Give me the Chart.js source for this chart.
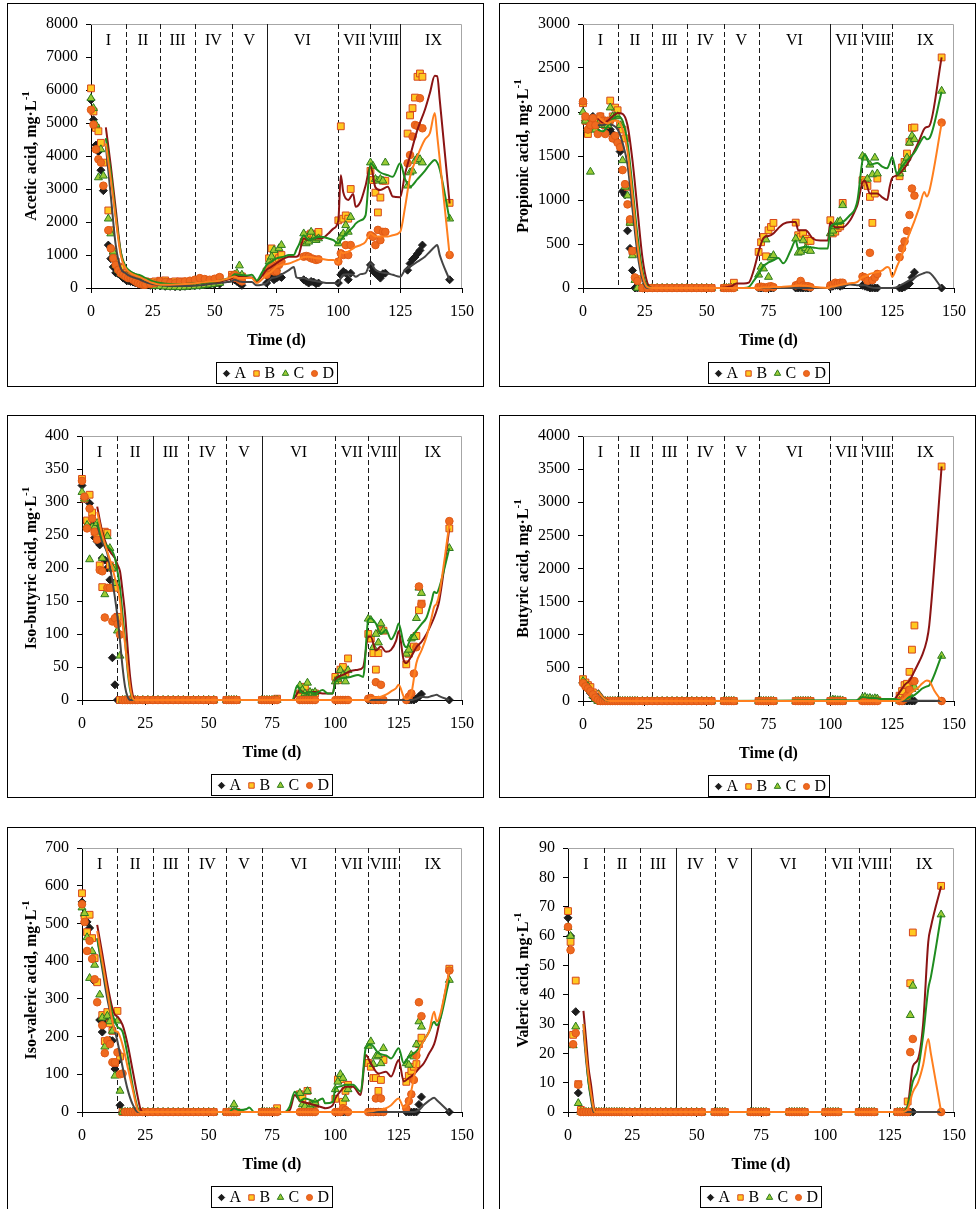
<!DOCTYPE html>
<html>
<head>
<meta charset="utf-8">
<script src="https://cdn.jsdelivr.net/npm/chart.js@4.4.1/dist/chart.umd.min.js"></script>
<style>
body { margin: 0; background: #fff; width: 977px; height: 1209px; overflow: hidden; position: relative; }
.box { position: absolute; border: 1px solid #000; box-sizing: border-box; background: #fff; }
.box canvas { position: absolute; left: 0; top: 0; }
</style>
</head>
<body>
<script>
const SERIF = "'Liberation Serif', 'Times New Roman', serif"

// sampling days shared by all measured series
const sampleDays = [0,1,2,3,4,5,6,7,8,9,10,11,12,13,14,15,16,17,18,19,20,21,22,
  24,26,28,30,32,34,36,38,40,42,44,46,48,50,52,
  57,58,59,60,61, 71,72,73,74,75,76,77, 86,87,88,89,90,91,92,
  100,101,102,103,104,105, 113,114,115,116,117,118,119, 128,129,130,131,132,133,134, 145]

const seriesNames = ["A", "B", "C", "D"]
const phaseBounds = [14, 28, 42, 57, 71, 100, 113, 125]
const phaseNames = ["I", "II", "III", "IV", "V", "VI", "VII", "VIII", "IX"]
const phaseMids = [7, 21, 35, 49.5, 64, 85.5, 106.5, 119, 138.5]
const xTicks = [0, 25, 50, 75, 100, 125, 150]

// ---------- acetic ----------
const acetA = [5700,5100,4330,4130,3570,2950,null,1300,890,640,460,430,380,300,250,220,200,180,150,130,110,100,90,
  80,70,60,50,50,40,40,50,60,70,80,90,100,110,120,
  300,250,200,150,80, 150,300,380,250,300,350,320,
  250,200,150,200,180,130,150, 150,400,500,450,250,450,
  700,520,440,380,300,430,450, 540,740,860,940,1040,1140,1300, 250]
const acetB = [6050,5350,4850,4750,4400,3800,null,2350,1750,1100,800,650,600,450,400,350,320,300,280,250,230,200,200,
  180,200,220,230,180,200,200,180,150,170,200,220,200,250,300,
  400,350,300,300,350, 500,900,1200,1000,800,900,1000,
  1400,1500,1600,1650,1550,1600,1700, 2050,4900,2100,2200,2100,3000,
  3550,3270,2890,2290,2740,3250,3250, 4680,5230,5450,5770,6400,6500,6400, 2580]
const acetC = [5750,5450,4950,3350,4200,3400,null,2100,1650,1100,700,550,450,400,350,350,300,300,250,200,150,120,100,
  80,60,50,40,30,30,20,30,40,50,60,80,100,120,150,
  350,400,450,680,400, 500,800,950,1150,600,1200,1300,
  1650,1350,1400,1700,1500,1450,1500, 1350,1550,1650,1900,1700,2150,
  3800,3700,3300,3250,3300,3250,3800, 3100,3500,3550,3850,3950,3900,3800, 2100]
const acetD = [5400,4950,4200,3900,3800,3100,null,1750,1200,900,700,550,450,400,350,300,300,250,200,150,120,100,100,
  120,150,200,180,150,150,180,200,220,250,300,270,250,280,330,
  350,400,350,250,200, 400,600,700,500,500,700,800,
  950,970,950,900,880,850,870, 800,1050,1000,1300,1000,1300,
  1600,1550,1300,1760,1450,1700,1700, 3780,4030,4590,4940,4910,5750,4840, 1000]

const acetLineDays = [6,8,10,12,14,16,18,20,22,25, 28,32,36,40,44,48,52,55,57,58,
  60,63,65,67,69,71,73,75,78,80, 82,83,84,86,88,90,93,96,98,100,
  101,102,104,106,107,109,111,113,115,117, 120,122,125,127,129,132,135,137,139,140, 141,145]
const acetLineA = [4300,2800,1300,600,450,350,300,250,180,120, 80,60,60,60,80,120,150,180,200,250,
  200,180,180,80,100,150,300,330,450,540, 640,330,300,300,250,220,180,150,150,140,
  300,400,420,400,340,420,450,750,550,480, 440,400,340,550,650,800,950,1100,1250,1300, 1000,240]
const acetLineB = [4870,3700,2400,1100,600,480,420,350,280,180, 130,120,120,130,150,180,200,250,300,380,
  350,330,320,200,350,550,650,750,900,950, 950,950,1000,1500,1450,1500,1500,1650,1800,2050,
  3420,2900,2670,2850,2460,2620,3100,3700,3050,2970, 3070,2770,2750,3470,4000,4800,5400,5900,6430,6420, 5700,2560]
const acetLineC = [4540,3500,2200,1100,650,500,420,380,300,200, 150,120,120,130,150,180,220,280,350,420,
  400,380,400,230,450,700,800,900,950,1000, 1000,1150,1300,1600,1450,1500,1550,1500,1450,1350,
  1450,1550,1700,1850,1950,2050,2200,3780,3630,3500, 3420,3370,3780,3300,3070,3300,3550,3750,3880,3800, 3600,2060]
const acetLineD = [4380,3300,2100,1000,600,450,380,320,250,150, 100,100,110,130,160,200,220,280,330,350,
  300,300,300,150,250,400,500,640,720,740, 800,830,860,940,950,920,890,850,850,740,
  1100,1050,1100,1200,1250,1300,1400,1650,1560,1560, 1560,1600,1700,2460,3370,4000,4500,4690,5300,4600, 3900,990]

// ---------- propionic ----------
const propA = [2100,1900,1800,1850,1950,1800,1850,1900,1850,1900,1850,1800,1750,1690,1650,1550,1100,1060,650,450,200,0,0,
  0,0,0,0,0,0,0,0,0,0,0,0,0,0,0,
  0,0,0,0,0, 0,0,0,0,0,0,0,
  0,0,0,0,0,0,0, 10,20,30,30,20,30,
  30,20,10,0,0,0,0, 0,0,10,30,50,120,180, 0]
const propB = [2100,1900,1750,1850,1900,1850,1900,1950,1900,1850,1900,2130,1950,2050,2020,1850,1800,1700,1150,750,420,400,100,
  0,0,0,0,0,0,0,0,0,0,0,0,0,0,0,
  0,0,0,0,60, 410,520,580,360,656,694,740,
  743,600,580,618,560,535,535, 770,620,640,680,700,967,
  1225,1200,1160,1035,740,1073,1244, 1270,1370,1433,1528,1660,1820,1824, 2620]
const propC = [2000,1900,1800,1320,1800,1800,1850,1900,1850,1850,1850,2050,1950,1950,1950,1850,1450,1150,1050,740,370,90,0,
  0,0,0,0,0,0,0,0,0,0,0,0,0,0,0,
  0,0,0,0,0, 150,240,220,550,125,345,372,
  560,400,410,540,450,430,420, 620,650,700,750,760,940,
  1500,1480,1240,1400,1290,1480,1300, 1300,1350,1420,1480,1650,1730,1690, 2240]
const propD = [2120,1950,1800,1850,1930,1850,1750,1950,1900,1750,1900,1900,1700,1730,1650,1600,1340,1180,950,780,420,120,80,
  0,0,0,0,0,0,0,0,0,0,0,0,0,0,0,
  0,0,0,0,0, 10,15,10,0,15,20,10,
  30,40,80,30,20,20,10, 30,40,60,50,60,60,
  130,120,80,400,90,120,160, 350,450,530,650,830,1130,1050, 1880]

const propLineDays = [6,8,10,12,14,16,18,20,22,24, 26,28,35,45,55,60,62,65,67,69,
  71,73,75,77,79,81,84,86,87,90, 93,96,99,100,102,105,108,110,111,113,
  114,116,119,121,123,124,125,127,129,132, 134,136,138,139,140,145]
const propLineA = [1850,1850,1870,1850,1800,1650,1400,900,400,100, 0,0,0,0,0,0,0,0,0,0,
  0,0,0,0,0,0,0,0,0,0, 0,0,0,0,10,20,40,35,30,30,
  30,10,0,0,0,0,0,10,40,90, 120,150,170,180,175,0]
const propLineB = [1930,1880,1900,1950,1990,1980,1850,1450,900,350, 60,0,0,0,0,20,50,50,60,200,
  410,570,590,620,680,730,750,750,655,655, 560,540,540,750,690,690,770,880,950,1200,
  1220,1075,1075,1030,1000,1150,1250,1280,1330,1450, 1560,1680,1810,1830,1840,2620]
const propLineC = [1800,1780,1840,1920,1950,1900,1650,1150,600,200, 20,0,0,0,0,0,0,0,10,80,
  160,250,290,315,340,280,430,540,450,470, 460,450,450,690,730,750,830,900,1000,1450,
  1510,1400,1420,1380,1360,1420,1490,1290,1380,1480, 1540,1640,1720,1690,1700,2230]
const propLineD = [1950,1900,1870,1900,1900,1800,1550,1050,500,150, 10,0,0,0,0,0,0,0,0,0,
  0,5,5,10,10,15,20,25,30,25, 15,5,0,10,20,40,55,60,70,125,
  130,160,180,200,240,220,125,250,380,620, 760,920,1090,1040,1100,1870]

// ---------- iso-butyric ----------
const ibutA = [325,305,268,298,265,246,240,235,215,212,200,182,64,23,0,0,0,0,0,0,0,0,0,
  0,0,0,0,0,0,0,0,0,0,0,0,0,0,0,
  0,0,0,0,0, 0,0,0,0,0,0,0,
  0,0,0,0,0,0,0, 0,0,0,0,0,0,
  0,0,0,0,0,0,0, 0,0,0,0,2,5,9, 0]
const ibutB = [335,305,272,311,284,255,252,204,171,255,253,204,200,170,126,0,0,0,0,0,0,0,0,
  0,0,0,0,0,0,0,0,0,0,0,0,0,0,0,
  0,0,0,0,0, 0,0,0,0,0,0,2,
  10,15,20,10,10,8,10, 35,30,46,50,40,63,
  100,93,71,46,71,106,105, 54,70,78,81,97,136,146, 260]
const ibutC = [315,305,265,213,262,262,268,255,215,160,248,230,200,177,105,67,0,0,0,0,0,0,0,
  0,0,0,0,0,0,0,0,0,0,0,0,0,0,0,
  0,0,0,0,0, 0,0,0,0,0,0,0,
  22,15,10,26,12,10,12, 28,32,45,38,28,45,
  123,121,80,100,87,116,105, 70,76,93,95,124,170,162, 230]
const ibutD = [332,308,260,290,275,255,243,197,195,125,170,170,119,124,115,99,0,0,0,0,0,0,0,
  0,0,0,0,0,0,0,0,0,0,0,0,0,0,0,
  0,0,0,0,0, 0,0,0,0,0,0,0,
  0,0,0,0,0,0,0, 0,0,0,0,0,0,
  2,3,0,27,0,23,0, 0,5,10,40,80,172,145, 271]

const ibutLineDays = [6,8,10,12,13,14,15,16,17,18, 19,20,21,22,30,50,80,83,85,86,
  88,90,92,95,97,99,100,103,106,109, 111,113,114,116,118,120,122,124,125,127,
  128,130,132,134,136,138,139,140,141,145]
const ibutLineA = [265,240,222,180,155,126,90,50,20,5, 0,0,0,0,0,0,0,0,0,0,
  0,0,0,0,0,0,0,0,0,0, 0,0,0,0,0,0,0,0,0,0,
  0,0,2,5,4,6,7,8,6,0]
const ibutLineB = [293,255,232,220,215,205,195,165,130,80, 35,8,0,0,0,0,0,0,10,15,
  10,12,12,10,10,10,30,38,44,46, 50,96,96,75,81,73,76,90,104,60,
  56,66,80,88,100,116,125,136,150,260]
const ibutLineC = [270,245,233,225,215,195,170,130,90,45, 15,2,0,0,0,0,0,0,22,15,
  10,12,10,15,10,10,28,33,35,38, 35,122,124,116,100,106,92,105,116,85,
  80,95,105,115,125,150,164,162,170,230]
const ibutLineD = [285,250,225,200,185,172,150,115,85,50, 20,3,0,0,0,0,0,0,0,0,
  0,0,0,0,0,0,0,0,0,0, 0,0,3,4,5,8,13,18,23,5,
  1,10,56,75,96,125,141,146,160,266]

// ---------- butyric ----------
const butA = [280,240,180,120,60,20,0,0,0,0,0,0,0,0,0,0,0,0,0,0,0,0,0,
  0,0,0,0,0,0,0,0,0,0,0,0,0,0,0,
  0,0,0,0,0, 0,0,0,0,0,0,0,
  0,0,0,0,0,0,0, 0,0,0,0,0,0,
  0,0,0,0,0,0,0, 0,0,0,0,0,0,0, 0]
const butB = [330,280,240,210,130,60,20,0,0,0,0,0,0,0,0,0,0,0,0,0,0,0,0,
  0,0,0,0,0,0,0,0,0,0,0,0,0,0,0,
  0,0,0,0,0, 0,0,0,0,0,0,0,
  0,0,0,0,0,0,0, 0,0,0,0,0,0,
  10,10,10,10,10,10,10, 80,150,240,260,440,775,1140, 3540]
const butC = [300,260,220,160,80,30,0,0,0,0,0,0,0,0,0,0,0,0,0,0,0,0,0,
  0,0,0,0,0,0,0,0,0,0,0,0,0,0,0,
  0,0,0,0,0, 0,0,0,0,0,0,0,
  0,0,0,0,0,0,0, 10,20,15,10,10,5,
  50,60,40,45,30,40,35, 0,10,30,60,100,180,210, 680]
const butD = [270,220,190,150,100,50,20,0,0,0,0,0,0,0,0,0,0,0,0,0,0,0,0,
  0,0,0,0,0,0,0,0,0,0,0,0,0,0,0,
  0,0,0,0,0, 0,0,0,0,0,0,0,
  0,0,0,0,0,0,0, 0,0,0,0,0,0,
  0,0,0,0,0,0,0, 0,0,30,80,170,300,300, 0]

const butLineDays = [6,7,8,9,10,11,20,50,100,105, 110,112,113,115,117,119,121,124,126,128,
  130,132,134,136,137,139,140,142,145]
const butLineA = [130,90,45,15,0,0,0,0,0,0, 0,0,0,0,0,0,0,0,0,0, 0,3,5,5,5,5,5,3,0]
const butLineB = [170,120,70,30,5,0,0,0,0,0, 0,0,0,0,0,0,0,0,30,130, 240,310,450,600,680,915,1145,null,3540]
const butLineC = [160,110,60,25,3,0,0,0,10,10, 10,40,60,50,45,40,30,30,30,10, 20,60,90,150,185,220,237,null,690]
const butLineD = [150,100,55,20,2,0,0,0,0,0, 0,0,0,0,0,0,0,0,0,0, 40,110,160,220,260,310,300,160,0]

// ---------- iso-valeric ----------
const ivalA = [557,520,504,488,null,346,null,244,212,null,240,190,189,114,134,18,0,0,0,0,0,0,0,
  0,0,0,0,0,0,0,0,0,0,0,0,0,0,0,
  0,0,0,0,0, 0,0,0,0,0,0,0,
  0,0,0,0,0,0,0, 0,0,0,0,0,0,
  0,0,0,0,0,0,0, 0,0,0,0,0,20,40, 0]
const ivalB = [580,520,477,523,461,408,344,null,257,188,265,235,215,130,268,147,0,0,0,0,0,0,0,
  0,0,0,0,0,0,0,0,0,0,0,0,0,0,0,
  0,0,0,0,0, 0,0,0,0,0,0,10,
  47,36,15,56,15,20,20, 35,86,87,27,56,72,
  130,120,90,90,56,85,138, 80,96,109,120,127,180,197, 380]
const ivalC = [542,527,463,355,426,390,null,311,250,173,255,240,215,96,242,56,0,0,0,0,0,0,0,
  0,0,0,0,0,0,0,0,0,0,0,0,0,0,0,
  0,0,0,20,0, 0,0,0,0,0,0,0,
  50,20,15,55,15,20,25, 60,80,100,90,35,60,
  175,187,127,147,150,129,169, 129,125,151,147,179,240,226, 350]
const ivalD = [551,504,427,454,406,352,291,null,230,156,190,180,132,132,158,100,102,0,0,0,0,0,0,
  0,0,0,0,0,0,0,0,0,0,0,0,0,0,0,
  0,0,0,0,0, 0,0,0,0,0,0,0,
  0,0,0,0,0,0,0, 0,0,0,10,5,0,
  0,0,0,36,0,36,0, 10,29,47,85,150,291,254, 375]

const ivalLineDays = [6,8,10,12,13,14,16,18,20,22, 23,24,30,55,58,60,62,65,66,68,
  80,82,84,86,88,90,92,95,96,99, 100,102,104,107,110,112,114,117,120,122,
  125,127,129,131,133,135,137,139,140,145]
const ivalLineA = [460,380,300,240,215,187,120,60,20,0, 0,0,0,0,0,0,0,0,0,0,
  0,0,0,0,0,0,0,0,0,0, 0,0,0,0,0,0,0,0,0,0,
  0,0,0,0,5,19,30,38,32,0]
const ivalLineB = [496,420,340,275,258,253,231,180,110,40, 10,0,0,0,0,0,0,0,0,0,
  0,5,45,30,25,22,18,12,10,18, 36,55,67,67,45,151,129,102,107,94,
  138,81,90,100,115,130,155,180,204,373]
const ivalLineC = [461,390,320,260,240,226,213,150,70,10, 0,0,0,0,0,10,5,8,12,0,
  0,15,54,30,36,32,27,36,23,27, 63,68,72,72,54,169,179,156,150,142,
  169,129,147,155,169,190,213,239,230,350]
const ivalLineD = [480,400,320,240,215,213,178,120,60,5, 0,0,0,0,0,0,0,0,0,0,
  0,0,0,0,0,0,0,0,0,0, 0,0,0,0,0,0,2,5,10,18,
  36,12,30,90,160,190,213,266,240,373]

// ---------- valeric ----------
const valA = [66.2,60,null,34.2,6.5,0,0,0,0,0,0,0,0,0,0,0,0,0,0,0,0,0,0,
  0,0,0,0,0,0,0,0,0,0,0,0,0,0,0,
  0,0,0,0,0, 0,0,0,0,0,0,0,
  0,0,0,0,0,0,0, 0,0,0,0,0,0,
  0,0,0,0,0,0,0, 0,0,0,0,0,0,0, 0]
const valB = [68.5,58,26.3,44.8,9.5,0.7,0,0,0,0,0,0,0,0,0,0,0,0,0,0,0,0,0,
  0,0,0,0,0,0,0,0,0,0,0,0,0,0,0,
  0,0,0,0,0, 0,0,0,0,0,0,0,
  0,0,0,0,0,0,0, 0,0,0,0,0,0,
  0,0,0,0,0,0,0, 0,0,0,0,3.6,43.9,61.2, 77.1]
const valC = [63,60,22.7,29.1,3,0,0,0,0,0,0,0,0,0,0,0,0,0,0,0,0,0,0,
  0,0,0,0,0,0,0,0,0,0,0,0,0,0,0,
  0,0,0,0,0, 0,0,0,0,0,0,0,
  0,0,0,0,0,0,0, 0,0,0,0,0,0,
  0,0,0,0,0,0,0, 0,0,0,0,0,33,43, 67.3]
const valD = [63.1,55.2,23.1,26.9,9.3,0,0,0,0,0,0,0,0,0,0,0,0,0,0,0,0,0,0,
  0,0,0,0,0,0,0,0,0,0,0,0,0,0,0,
  0,0,0,0,0, 0,0,0,0,0,0,0,
  0,0,0,0,0,0,0, 0,0,0,0,0,0,
  0,0,0,0,0,0,0, 0,0,0,0,0,20.4,24.9, 0]

const valLineDays = [6,7,8,9,10,10.5,20,60,100,130,132,134,136,138,140,141,145]
const valLineA = [28,18,10,4,0,0,0,0,0,0,0,0,0,0,0,0,0]
const valLineB = [34.5,25,15,9,2,0,0,0,0,0,2,15.5,18,30,58,63,77]
const valLineC = [30,20,10,5,1,0,0,0,0,0,2,10.4,14.5,26,42,46,67]
const valLineD = [30,20,12,6,1,0,0,0,0,0,1,6.8,10,16,24.9,20,0]

// ---------- styles ----------
const markStyle = [
  { pointStyle: "rectRot", radius: 4, fill: "#1c1c1c", edge: "#1c1c1c" },
  { pointStyle: "rect", radius: 4.8, fill: "#ffc820", edge: "#d6461c" },
  { pointStyle: "triangle", radius: 4.6, fill: "#9acb34", edge: "#2c7a1e" },
  { pointStyle: "circle", radius: 3.8, fill: "#ef6a1f", edge: "#e05a16" }
]
const lineColors = ["#454545", "#8b1414", "#1f8c1f", "#ff7f1e"]

const panels = [
  { box: [7, 3, 477, 384], plot: [91, 462, 24, 288], yMax: 8000, yStep: 1000, title: "Acetic acid, mg·L", styles: "ddddsdds",
    pts: [acetA, acetB, acetC, acetD], lineDays: acetLineDays, lines: [acetLineA, acetLineB, acetLineC, acetLineD] },
  { box: [499, 3, 477, 384], plot: [583, 954, 24, 288], yMax: 3000, yStep: 500, title: "Propionic acid, mg·L", styles: "dddddsdd",
    pts: [propA, propB, propC, propD], lineDays: propLineDays, lines: [propLineA, propLineB, propLineC, propLineD] },
  { box: [7, 415, 477, 383], plot: [82, 463, 436, 700], yMax: 400, yStep: 50, title: "Iso-butyric acid, mg·L", styles: "dsddsdds",
    pts: [ibutA, ibutB, ibutC, ibutD], lineDays: ibutLineDays, lines: [ibutLineA, ibutLineB, ibutLineC, ibutLineD] },
  { box: [499, 415, 477, 383], plot: [583, 956, 436, 701], yMax: 4000, yStep: 500, title: "Butyric acid, mg·L", styles: "dddddddd",
    pts: [butA, butB, butC, butD], lineDays: butLineDays, lines: [butLineA, butLineB, butLineC, butLineD] },
  { box: [7, 827, 477, 400], plot: [82, 463, 848, 1112], yMax: 700, yStep: 100, title: "Iso-valeric acid, mg·L", styles: "dddddddd",
    pts: [ivalA, ivalB, ivalC, ivalD], lineDays: ivalLineDays, lines: [ivalLineA, ivalLineB, ivalLineC, ivalLineD] },
  { box: [499, 827, 477, 400], plot: [568, 955, 848, 1112], yMax: 90, yStep: 10, title: "Valeric acid, mg·L", styles: "ddsdsddd",
    pts: [valA, valB, valC, valD], lineDays: valLineDays, lines: [valLineA, valLineB, valLineC, valLineD] }
]

// make sure every series matches its day list
panels.forEach((p, k) => {
  p.pts.forEach((s, i) => { if (s.length !== sampleDays.length) throw new Error("panel " + k + " points " + i + ": " + s.length) })
  p.lines.forEach((s, i) => { if (s.length !== p.lineDays.length) throw new Error("panel " + k + " line " + i + ": " + s.length) })
})

Chart.defaults.font.family = SERIF
Chart.defaults.font.size = 16
Chart.defaults.color = "#000"

const decor = {
  id: "decor",
  beforeDatasetsDraw(chart, args, o) {
    const { ctx, chartArea: a } = chart
    const x = chart.scales.x
    ctx.save()
    ctx.lineWidth = 1
    ctx.strokeStyle = "#a6a6a6"
    ctx.beginPath()
    ctx.moveTo(a.left, a.top + 0.5)
    ctx.lineTo(a.right - 0.5, a.top + 0.5)
    ctx.lineTo(a.right - 0.5, a.bottom)
    ctx.stroke()
    ctx.strokeStyle = "#1a1a1a"
    phaseBounds.forEach((d, i) => {
      const px = Math.round(x.getPixelForValue(d)) + 0.5
      ctx.setLineDash(o.styles[i] === "s" ? [] : [5, 3])
      ctx.beginPath()
      ctx.moveTo(px, a.top)
      ctx.lineTo(px, a.bottom)
      ctx.stroke()
    })
    ctx.setLineDash([])
    ctx.fillStyle = "#000"
    ctx.font = "16px " + SERIF
    ctx.textAlign = "center"
    ctx.textBaseline = "middle"
    phaseNames.forEach((n, i) => ctx.fillText(n, x.getPixelForValue(phaseMids[i]), a.top + 17))
    ctx.restore()
  },
  afterDraw(chart, args, o) {
    const { ctx, chartArea: a } = chart
    const cx = (a.left + a.right) / 2
    ctx.save()
    ctx.fillStyle = "#000"
    ctx.textBaseline = "middle"
    ctx.textAlign = "center"
    ctx.font = "bold 16px " + SERIF
    ctx.fillText("Time (d)", cx, a.bottom + 53)

    // y axis title with superscript
    ctx.save()
    ctx.translate(24, (a.top + a.bottom) / 2)
    ctx.rotate(-Math.PI / 2)
    ctx.textAlign = "left"
    ctx.font = "bold 16px " + SERIF
    const w1 = ctx.measureText(o.title).width
    ctx.font = "bold 11px " + SERIF
    const w2 = ctx.measureText("-1").width
    const x0 = -(w1 + w2) / 2
    ctx.font = "bold 16px " + SERIF
    ctx.fillText(o.title, x0, 0)
    ctx.font = "bold 11px " + SERIF
    ctx.fillText("-1", x0 + w1, -6)
    ctx.restore()

    // legend box
    const bx = Math.round(cx - 61) + 0.5
    const by = Math.round(a.bottom + 74) + 0.5
    ctx.strokeStyle = "#000"
    ctx.lineWidth = 1
    ctx.strokeRect(bx, by, 121, 21)
    const markX = [10, 40, 69, 98]
    const textX = [18, 48, 77, 106]
    seriesNames.forEach((n, i) => {
      const m = markStyle[i]
      ctx.fillStyle = m.fill
      ctx.strokeStyle = m.edge
      ctx.lineWidth = 1
      Chart.helpers.drawPoint(ctx, { pointStyle: m.pointStyle, radius: m.radius * 0.8, rotation: 0, borderWidth: 1 }, bx + markX[i], by + 11)
      ctx.fillStyle = "#000"
      ctx.font = "16px " + SERIF
      ctx.textAlign = "left"
      ctx.fillText(n, bx + textX[i], by + 11.5)
    })
    ctx.restore()
  }
}

panels.forEach(p => {
  const [bl, bt, bw, bh] = p.box
  const div = document.createElement("div")
  div.className = "box"
  div.style.left = bl + "px"
  div.style.top = bt + "px"
  div.style.width = bw + "px"
  div.style.height = bh + "px"
  const canvas = document.createElement("canvas")
  const cw = bw - 2, ch = bh - 2
  canvas.width = cw
  canvas.height = ch
  canvas.style.width = cw + "px"
  canvas.style.height = ch + "px"
  div.appendChild(canvas)
  document.body.appendChild(div)

  const pl = p.plot[0] - bl - 1
  const pr = p.plot[1] - bl - 1
  const pt = p.plot[2] - bt - 1
  const pb = p.plot[3] - bt - 1

  const datasets = []
  p.lines.forEach((vals, i) => {
    datasets.push({
      label: "line " + seriesNames[i],
      data: p.lineDays.map((d, j) => ({ x: d, y: vals[j] })),
      showLine: true,
      spanGaps: true,
      borderColor: lineColors[i],
      borderWidth: 2,
      pointRadius: 0,
      cubicInterpolationMode: "monotone",
      order: 4 - i,
      clip: false
    })
  })
  p.pts.forEach((vals, i) => {
    const m = markStyle[i]
    datasets.push({
      label: seriesNames[i],
      data: sampleDays.map((d, j) => vals[j] == null ? null : { x: d, y: vals[j] }).filter(Boolean),
      showLine: false,
      pointStyle: m.pointStyle,
      pointRadius: m.radius,
      backgroundColor: m.fill,
      borderColor: m.edge,
      borderWidth: 1,
      order: 9 - i,
      clip: false
    })
  })

  const axisGrid = { display: true, drawOnChartArea: false, drawTicks: true, tickLength: 5, color: "#000" }
  const axisBorder = { display: true, color: "#000", width: 1 }

  new Chart(canvas, {
    type: "scatter",
    data: { datasets },
    options: {
      responsive: false,
      animation: false,
      devicePixelRatio: 1,
      events: [],
      layout: { padding: { left: 0, top: pt, right: cw - pr, bottom: 0 } },
      plugins: {
        legend: { display: false },
        tooltip: { enabled: false },
        decor: { styles: p.styles, title: p.title }
      },
      scales: {
        x: {
          type: "linear", min: 0, max: 150,
          afterFit(s) { s.height = ch - pb },
          afterBuildTicks(s) { s.ticks = xTicks.map(v => ({ value: v })) },
          ticks: { color: "#000", padding: 9, maxRotation: 0, autoSkip: false, callback: v => String(v) },
          grid: axisGrid, border: axisBorder
        },
        y: {
          type: "linear", min: 0, max: p.yMax,
          afterFit(s) { s.width = pl },
          ticks: { stepSize: p.yStep, color: "#000", padding: 8, callback: v => String(v) },
          grid: axisGrid, border: axisBorder
        }
      }
    },
    plugins: [decor]
  })
})
</script>
</body>
</html>
